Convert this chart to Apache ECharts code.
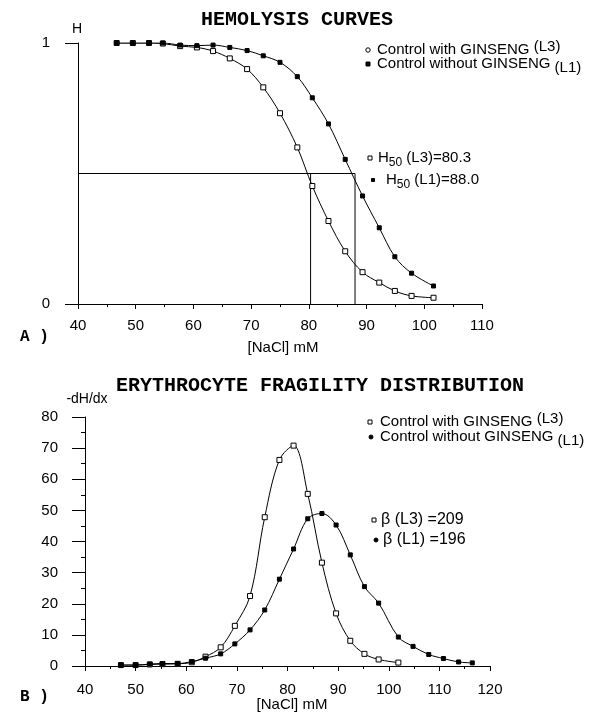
<!DOCTYPE html>
<html>
<head>
<meta charset="utf-8">
<script src="https://cdn.jsdelivr.net/npm/echarts@6/dist/echarts.min.js"></script>
<style>html,body{margin:0;padding:0;background:#fff}#c{width:596px;height:713px}</style>
</head>
<body>
<div id="c"></div>
<script>
// ---- Data ----
// A) Hemolysis curves
const topNaCl = [46.7,49.5,52.3,54.7,57.7,60.6,63.4,66.3,69.3,72.1,75.0,78.0,80.6,83.4,86.3,89.3,92.2,94.9,97.8,101.6];
const topL3 = [1.0,1.0,1.0,0.998,0.988,0.983,0.969,0.941,0.900,0.830,0.731,0.600,0.452,0.318,0.202,0.122,0.082,0.050,0.031,0.024];
const topL1 = [1.0,1.0,1.0,1.0,0.992,0.99,0.992,0.983,0.971,0.951,0.926,0.871,0.790,0.690,0.554,0.414,0.292,0.181,0.118,0.069];
const h50L3 = 80.3;
const h50L1 = 88.0;
// B) Erythrocyte fragility distribution
const botNaCl = [47.1,50,52.8,55.3,58.3,61.1,63.8,66.8,69.6,72.6,75.5,78.4,81.2,84,86.8,89.6,92.4,95.2,98,101.9,104.8,107.9,110.8,113.8,116.5];
const botL3 = [0.3,0.3,0.5,0.6,0.7,1.2,3.0,6.0,12.9,22.5,47.8,66.2,70.8,55.3,33.2,16.9,8.1,3.9,2.1,1.1];
const botL1 = [0.3,0.3,0.6,0.8,0.8,1.4,2.5,3.9,7.1,11.6,18.0,27.9,37.6,47.3,49.0,45.3,35.7,25.5,20.2,9.3,6.3,3.7,2.4,1.3,1.0];

const pairs = (xs, ys) => ys.map((y, i) => [xs[i], y]);
const SANS = 'Liberation Sans, Arial, sans-serif';
const MONO = 'Liberation Mono, Courier New, monospace';
const black = '#000';

function axisX(grid, min, max, labelMargin) {
  return {
    gridIndex: grid, type: 'value', min: min, max: max, interval: 10,
    axisLine: {lineStyle: {color: black, width: 1}},
    axisTick: {length: 5, lineStyle: {color: black}},
    minorTick: {show: true, splitNumber: 2, length: 3, lineStyle: {color: black}},
    axisLabel: {color: black, fontSize: 15, fontFamily: SANS, margin: labelMargin},
    splitLine: {show: false}
  };
}

const openSym = {color: '#fff', borderColor: black, borderWidth: 1};
const fillSym = {color: black, borderColor: black, borderWidth: 1};

function lineSeries(xi, yi, data, open) {
  return {
    type: 'line', xAxisIndex: xi, yAxisIndex: yi, data: data,
    smooth: 0.35, symbol: 'rect', symbolSize: open ? 5 : 4,
    showAllSymbol: true,
    lineStyle: {color: black, width: 1},
    itemStyle: open ? openSym : fillSym,
    z: open ? 3 : 4
  };
}

function txt(x, y, text, opts) {
  return {
    type: 'text', x: x, y: y, silent: true,
    style: Object.assign({text: text, fill: black, font: '15px ' + SANS, textAlign: 'left', textVerticalAlign: 'middle'}, opts || {})
  };
}
function richTxt(x, y, text, rich) {
  return {
    type: 'text', x: x, y: y, silent: true,
    style: {text: text, fill: black, textAlign: 'left', textVerticalAlign: 'middle', rich: rich}
  };
}
function sq(x, y, s, filled) {
  return {type: 'rect', shape: {x: x - s / 2, y: y - s / 2, width: s, height: s}, silent: true,
    style: {fill: filled ? black : '#fff', stroke: black, lineWidth: 1}};
}
function dot(x, y, r, filled) {
  return {type: 'circle', shape: {cx: x, cy: y, r: r}, silent: true,
    style: {fill: filled ? black : '#fff', stroke: black, lineWidth: 1}};
}

const baseRich = {
  a: {fontSize: 15, fontFamily: SANS, color: black, lineHeight: 22, verticalAlign: 'middle'},
  up: {fontSize: 15, fontFamily: SANS, color: black, lineHeight: 17, verticalAlign: 'top'},
  dn: {fontSize: 15, fontFamily: SANS, color: black, lineHeight: 17, verticalAlign: 'bottom'},
  sub: {fontSize: 12, fontFamily: SANS, color: black, lineHeight: 13, verticalAlign: 'bottom'}
};

const chart = echarts.init(document.getElementById('c'), null, {renderer: 'canvas'});
chart.setOption({
  animation: false,
  backgroundColor: '#fff',
  grid: [
    {left: 78, right: 114, top: 43, height: 261},
    {left: 85, right: 106, top: 417, height: 249}
  ],
  xAxis: [axisX(0, 40, 110, 14), axisX(1, 40, 120, 16)],
  yAxis: [
    {
      gridIndex: 0, type: 'value', min: 0, max: 1, interval: 1,
      axisLine: {show: true, lineStyle: {color: black, width: 1}},
      axisTick: {show: true, length: 13, lineStyle: {color: black}},
      axisLabel: {color: black, fontSize: 15, fontFamily: SANS, margin: 28},
      splitLine: {show: false}
    },
    {
      gridIndex: 1, type: 'value', min: 0, max: 80, interval: 10,
      axisLine: {show: true, lineStyle: {color: black, width: 1}},
      axisTick: {show: true, length: 13, lineStyle: {color: black}},
      minorTick: {show: true, splitNumber: 2, length: 4, lineStyle: {color: black}},
      axisLabel: {color: black, fontSize: 15, fontFamily: SANS, margin: 27},
      splitLine: {show: false}
    }
  ],
  series: [
    {
      type: 'line', xAxisIndex: 0, yAxisIndex: 0, symbol: 'none',
      lineStyle: {color: black, width: 1}, z: 1,
      data: [[40, 0.5], [h50L1, 0.5], [h50L1, 0]]
    },
    {
      type: 'line', xAxisIndex: 0, yAxisIndex: 0, symbol: 'none',
      lineStyle: {color: black, width: 1}, z: 1,
      data: [[h50L3, 0], [h50L3, 0.5]]
    },
    lineSeries(0, 0, pairs(topNaCl, topL3), true),
    lineSeries(0, 0, pairs(topNaCl, topL1), false),
    lineSeries(1, 1, pairs(botNaCl, botL3), true),
    lineSeries(1, 1, pairs(botNaCl, botL1), false)
  ],
  graphic: [
    // Panel A texts
    txt(297, 20, 'HEMOLYSIS CURVES', {font: 'bold 20px ' + MONO, textAlign: 'center'}),
    txt(77, 29, 'H', {textAlign: 'center', font: '14px ' + SANS}),
    dot(368, 50, 2.2, false),
    richTxt(377, 50, '{a|Control with GINSENG }{up|(L3)}', baseRich),
    sq(368, 64, 4, true),
    richTxt(377, 64, '{a|Control without GINSENG }{dn|(L1)}', baseRich),
    sq(370, 158, 4, false),
    richTxt(378, 158, '{a|H}{sub|50}{a| (L3)=80.3}', baseRich),
    sq(373, 180, 3, true),
    richTxt(386, 180, '{a|H}{sub|50}{a| (L1)=88.0}', baseRich),
    txt(20, 337, 'A )', {font: 'bold 16px ' + MONO}),
    txt(283, 348, '[NaCl] mM', {textAlign: 'center'}),
    // Panel B texts
    txt(320, 386, 'ERYTHROCYTE FRAGILITY DISTRIBUTION', {font: 'bold 20px ' + MONO, textAlign: 'center'}),
    txt(87, 399, '-dH/dx', {textAlign: 'center', font: '14px ' + SANS}),
    sq(370, 422, 4, false),
    richTxt(380, 422, '{a|Control with GINSENG }{up|(L3)}', baseRich),
    dot(371, 437, 2, true),
    richTxt(380, 437, '{a|Control without GINSENG }{dn|(L1)}', baseRich),
    sq(374, 520, 4, false),
    txt(381, 520, 'β (L3) =209', {font: '16px ' + SANS}),
    dot(376, 540, 2, true),
    txt(383, 540, 'β (L1) =196', {font: '16px ' + SANS}),
    txt(20, 697, 'B )', {font: 'bold 16px ' + MONO}),
    txt(292, 705, '[NaCl] mM', {textAlign: 'center'})
  ]
});
</script>
</body>
</html>
